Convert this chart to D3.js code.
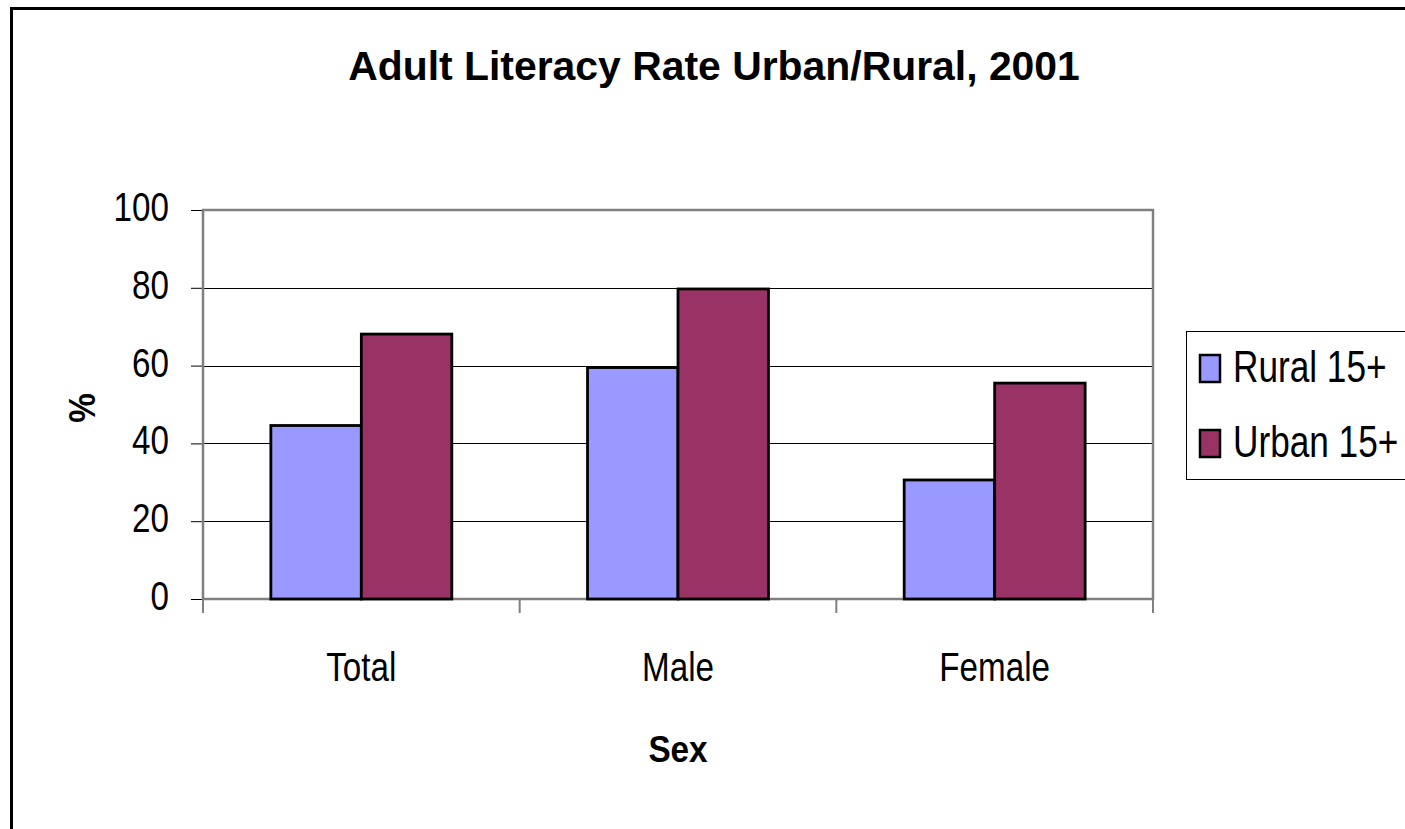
<!DOCTYPE html>
<html>
<head>
<meta charset="utf-8">
<script src="https://cdn.jsdelivr.net/npm/d3@7/dist/d3.min.js"></script>
<style>
  html, body { margin: 0; padding: 0; background: #fff; }
  svg { display: block; }
  text { font-family: "Liberation Sans", Arial, sans-serif; fill: #000; }
</style>
</head>
<body>
<svg id="chart" width="1405" height="829"></svg>
<script>
// Adult literacy rate (%) by sex, rural vs urban, 2001
const categories = ["Total", "Male", "Female"];
const seriesNames = ["Rural 15+", "Urban 15+"];
const rural = [44.6, 59.5, 30.6];
const urban = [68.1, 79.7, 55.5];
const yTicks = [0, 20, 40, 60, 80, 100];
const colors = ["#9999FF", "#993366"];

const svg = d3.select("#chart");
const W = 1405, H = 829;

// plot area
const plot = { left: 203, top: 210, right: 1153, bottom: 599 };

const x = d3.scaleBand().domain(categories).range([plot.left, plot.right]).padding(0);
const bw = x.bandwidth();
const gap = bw * 1.5 / 3.5;          // 150% gap between groups
const xs = d3.scaleBand().domain(seriesNames).range([gap / 2, bw - gap / 2]).padding(0);
const y = d3.scaleLinear().domain([0, 100]).range([plot.bottom, plot.top]);

// text helper: horizontally condensed glyphs
function label(parent, str, px, py, opts) {
  const g = parent.append("g")
    .attr("transform", `translate(${px},${py})` + (opts.rotate ? ` rotate(${opts.rotate})` : "") + ` scale(${opts.sx || 1},1)`);
  g.append("text")
    .attr("text-anchor", opts.anchor || "middle")
    .attr("font-size", opts.size)
    .attr("font-weight", opts.bold ? "bold" : "normal")
    .text(str);
  return g;
}

// outer chart frame (runs past the right and bottom edges)
svg.append("rect")
  .attr("x", 11.5).attr("y", 8.5)
  .attr("width", W + 50).attr("height", H + 50)
  .attr("fill", "#fff").attr("stroke", "#000").attr("stroke-width", 3);

// title
label(svg, "Adult Literacy Rate Urban/Rural, 2001", 714, 80, { size: 40.5, bold: true, sx: 1.01 });

// gridlines
svg.append("g").selectAll("line")
  .data(yTicks.filter(d => d > 0 && d < 100))
  .join("line")
  .attr("x1", plot.left).attr("x2", plot.right)
  .attr("y1", d => Math.round(y(d)) + 0.5).attr("y2", d => Math.round(y(d)) + 0.5)
  .attr("stroke", "#000").attr("stroke-width", 1);

// y axis ticks and labels
const yAxis = d3.axisLeft(y).tickValues(yTicks).tickSize(12).tickFormat("");
const yg = svg.append("g").attr("transform", `translate(${plot.left},0)`).call(yAxis);
yg.select(".domain").remove();
yg.selectAll(".tick line").attr("stroke", "#000").attr("stroke-width", 1);
yTicks.forEach(v => {
  label(svg, String(v), 169, y(v) + 11, { size: 40.5, anchor: "end", sx: 0.82 });
});

// x axis ticks (category boundaries)
const bounds = categories.map(c => x(c)).concat([plot.right]);
svg.append("g").selectAll("line")
  .data(bounds)
  .join("line")
  .attr("x1", d => d).attr("x2", d => d)
  .attr("y1", plot.bottom).attr("y2", plot.bottom + 14)
  .attr("stroke", "#808080").attr("stroke-width", 2);

// plot area border
svg.append("rect")
  .attr("x", plot.left).attr("y", plot.top)
  .attr("width", plot.right - plot.left).attr("height", plot.bottom - plot.top)
  .attr("fill", "none").attr("stroke", "#808080").attr("stroke-width", 2.5);

// bars
const rows = categories.map((c, i) => ({ cat: c, vals: [rural[i], urban[i]] }));
const groups = svg.append("g").selectAll("g")
  .data(rows)
  .join("g")
  .attr("transform", d => `translate(${x(d.cat)},0)`);
groups.selectAll("rect")
  .data(d => d.vals.map((v, j) => ({ s: seriesNames[j], v, j })))
  .join("rect")
  .attr("x", d => xs(d.s))
  .attr("y", d => y(d.v))
  .attr("width", xs.bandwidth())
  .attr("height", d => y(0) - y(d.v))
  .attr("fill", d => colors[d.j])
  .attr("stroke", "#000").attr("stroke-width", 2.8);

// category labels
categories.forEach(c => {
  label(svg, c, x(c) + bw / 2, 681, { size: 40.5, sx: 0.82 });
});

// axis titles
label(svg, "Sex", (plot.left + plot.right) / 2, 762, { size: 37, bold: true, sx: 0.9 });
label(svg, "%", 95, 408, { size: 37, bold: true, sx: 0.9, rotate: -90 });

// legend
const leg = svg.append("g");
leg.append("rect")
  .attr("x", 1186.5).attr("y", 331.5)
  .attr("width", 300).attr("height", 148)
  .attr("fill", "#fff").attr("stroke", "#000").attr("stroke-width", 1);
const legY = [355, 430];
seriesNames.forEach((s, j) => {
  leg.append("rect")
    .attr("x", 1200).attr("y", legY[j])
    .attr("width", 20).attr("height", 27)
    .attr("fill", colors[j]).attr("stroke", "#000").attr("stroke-width", 2.5);
  label(leg, s, 1233, legY[j] + 27, { size: 44, anchor: "start", sx: 0.8 });
});
</script>
</body>
</html>
